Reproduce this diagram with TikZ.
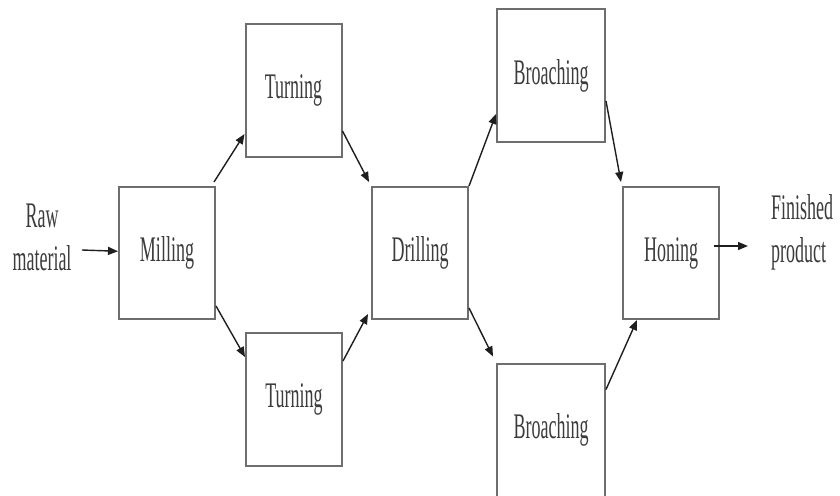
\documentclass[tikz,border=0pt]{standalone}
\usepackage{fontspec}
\setmainfont{Liberation Serif}
\usepackage{graphicx}
\usetikzlibrary{arrows.meta}
\definecolor{cline}{HTML}{6E6E6E}
\definecolor{ctext}{HTML}{3C3C3C}
\definecolor{carrow}{HTML}{1E1E1E}
\newcommand{\tall}[1]{\scalebox{1}[2]{#1}}

\begin{document}
\begin{tikzpicture}[x=1pt, y=-1pt,
  box/.style={draw=cline, line width=2pt, minimum width=96pt,
              minimum height=132pt, inner sep=0pt, text=ctext,
              font=\fontsize{18}{21.6}\selectfont},
  lbl/.style={inner sep=0pt, text=ctext, font=\fontsize{18}{21.6}\selectfont},
  flow/.style={-{Triangle[length=10pt,width=8pt]}, line width=1.4pt, draw=carrow}
]
\useasboundingbox (0,0) rectangle (840,495);

\node[box] (mil)  at (167,253)   {\tall{Milling}};
\node[box, minimum height=133pt] (tur1) at (293.5,90.5) {\tall{Turning}};
\node[box, minimum height=133pt] (tur2) at (294,399.5)  {\tall{Turning}};
\node[box] (dri)  at (420,253)   {\tall{Drilling}};
\node[box, minimum width=108pt, minimum height=133pt] (bro1) at (551,75.5) {\tall{Broaching}};
\node[box, minimum width=108pt, minimum height=133pt] (bro2) at (551,430)  {\tall{Broaching}};
\node[box] (hon)  at (671,253)   {\tall{Honing}};

\node[lbl] (raw) at (42,240) {\tall{\begin{tabular}{@{}c@{}}Raw\\material\end{tabular}}};
\node[lbl, anchor=west] (fin) at (771,232) {\tall{\begin{tabular}{@{}l@{}}Finished\\product\end{tabular}}};

\coordinate (rawtail) at (82,250);
\coordinate (finhead) at (748,246);

\draw[flow] (rawtail) -- (mil);
\draw[flow] ([xshift=-2pt,yshift=4pt]mil.north east) -- ([yshift=24pt]tur1.south west);
\draw[flow] ([yshift=14pt]mil.south east) -- ([yshift=-25pt]tur2.north west);
\draw[flow] ([yshift=27pt]tur1.south east) -- ([xshift=-2pt,yshift=4pt]dri.north west);
\draw[flow] ([yshift=-29pt]tur2.north east) -- ([xshift=-3pt,yshift=6pt]dri.south west);
\draw[flow] (dri.north east) -- ([yshift=29pt]bro1.south west);
\draw[flow] ([yshift=12pt]dri.south east) -- ([xshift=-3pt,yshift=6pt]bro2.north west);
\draw[flow] ([yshift=42pt]bro1.south east) -- ([xshift=-1pt,yshift=4pt]hon.north west);
\draw[flow] ([yshift=-27pt]bro2.north east) -- ([xshift=15pt]hon.south west);
\draw[flow] ([xshift=-6pt,yshift=7pt]hon.east) -- (finhead);
\end{tikzpicture}
\end{document}
